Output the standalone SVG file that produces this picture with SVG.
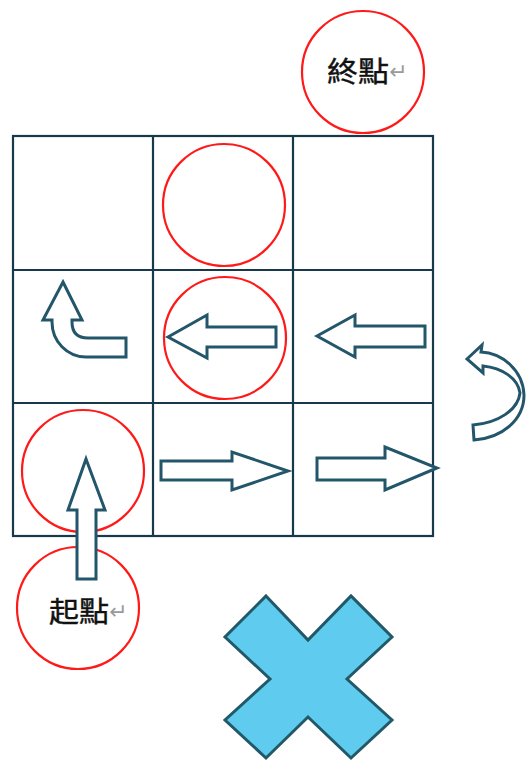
<svg xmlns="http://www.w3.org/2000/svg" width="526" height="761" viewBox="0 0 526 761">
<style>
.grid{fill:none;stroke:#17394a;stroke-width:2.2}
.ring{fill:none;stroke:#ff1a1a;stroke-width:2.2}
.arrow{fill:#ffffff;stroke:#23566a;stroke-width:3;stroke-linejoin:miter}
.lbl{font-family:"Noto Sans CJK TC","Noto Sans CJK SC",sans-serif;font-size:28px;fill:#111111;stroke:#111111;stroke-width:0.4}
.mark{font-family:"DejaVu Sans",sans-serif;font-size:22px;fill:#9a9a9a}
.cross{fill:#5ecbef;stroke:#215968;stroke-width:3;stroke-linejoin:miter}
</style>
<rect width="526" height="761" fill="#ffffff"/>
<g id="grid">
<rect class="grid" x="13" y="136" width="420" height="400"/>
<line class="grid" x1="153" y1="136" x2="153" y2="536"/>
<line class="grid" x1="293" y1="136" x2="293" y2="536"/>
<line class="grid" x1="13" y1="270" x2="433" y2="270"/>
<line class="grid" x1="13" y1="403" x2="433" y2="403"/>
</g>
<g id="end">
<circle class="ring" cx="363" cy="72" r="61"/>
<text class="lbl" x="327" y="82" textLength="62" lengthAdjust="spacingAndGlyphs">終點</text>
<text class="mark" x="389" y="79">↵</text>
</g>
<g id="circle-top"><circle class="ring" cx="224" cy="205" r="61"/></g>
<g id="circle-mid"><circle class="ring" cx="225" cy="338" r="61"/></g>
<g id="circle-start-cell"><circle class="ring" cx="83" cy="471" r="61"/></g>
<g id="start">
<circle class="ring" cx="78" cy="608" r="61"/>
<text class="lbl" x="49" y="622" textLength="60" lengthAdjust="spacingAndGlyphs">起點</text>
<text class="mark" x="109" y="619">↵</text>
</g>
<g id="connectors">
<polygon id="arrow-up" class="arrow" points="86,459 105,510 96,510 96,579 77,579 77,510 68,510"/>
<polygon id="arrow-right-1" class="arrow" points="161,461 232,461 232,452 288,471 232,490 232,480 161,480"/>
<polygon id="arrow-right-2" class="arrow" points="317,458 385,458 385,447 437,468 385,490 385,480 317,480"/>
<path id="arrow-uturn" class="arrow" d="M467,359 L482,345 L481,352 C502,353 523,370 524,395 C524,420 502,438 474,440 L473,425 C498,423 518,410 520,393 C518,378 502,368 483,366 L483,373 Z"/>
<polygon id="arrow-left-1" class="arrow" points="317,336 355,315 355,326 425,326 425,347 355,347 355,357"/>
<polygon id="arrow-left-2" class="arrow" points="168,337 207,315 207,327 276,327 276,347 207,347 207,358"/>
<path id="arrow-turn-up" class="arrow" d="M63,282 L82,320 L72,320 L72,322 Q72,338 88,338 L126,338 L126,357 L86,357 A34,35 0 0 1 52,322 L52,320 L43,320 Z"/>
</g>
<g id="cross">
<polygon class="cross" points="266,596 308,640 351,596 392,637 347,679 392,720 351,758 308,717 266,758 225,720 270,679 225,637"/>
</g>
</svg>
